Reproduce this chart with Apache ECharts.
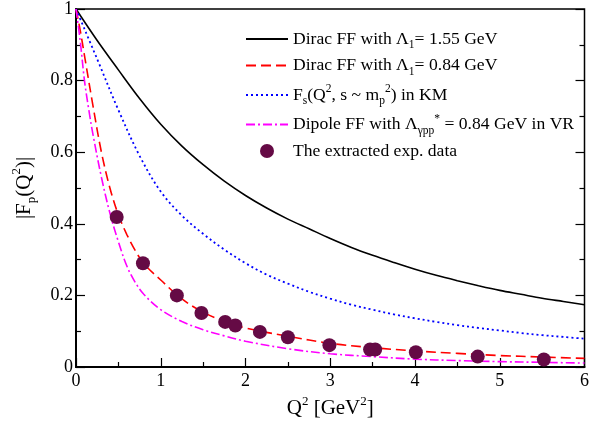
<!DOCTYPE html>
<html>
<head>
<meta charset="utf-8">
<script src="https://cdn.jsdelivr.net/npm/echarts@6/dist/echarts.min.js"></script>
<style>
html,body{margin:0;padding:0;background:#fff;}
#chart{width:592px;height:426px;}
</style>
</head>
<body>
<div id="chart"></div>
<script>
// ---- data ----
const diracHighQ2 = [0, 0.25, 0.5, 0.75, 1, 1.25, 1.5, 1.75, 2, 2.25, 2.5, 2.75, 3, 3.25, 3.5, 3.75, 4, 4.25, 4.5, 4.75, 5, 5.25, 5.5, 5.75, 6];
const diracHighF  = [1, 0.912, 0.83, 0.75, 0.678, 0.617, 0.565, 0.519, 0.479, 0.444, 0.413, 0.386, 0.359, 0.334, 0.312, 0.292, 0.273, 0.256, 0.241, 0.227, 0.214, 0.203, 0.192, 0.183, 0.174];

const diracLowQ2 = [0, 0.05, 0.1, 0.2, 0.3, 0.4, 0.5, 0.6, 0.7, 0.8, 1, 1.25, 1.5, 1.75, 2, 2.5, 3, 3.5, 4, 4.5, 5, 5.5, 6];
const diracLowF  = [1, 0.94, 0.87, 0.73, 0.6, 0.5, 0.425, 0.37, 0.325, 0.289, 0.243, 0.19, 0.153, 0.128, 0.109, 0.086, 0.066, 0.054, 0.045, 0.038, 0.032, 0.028, 0.024];

const kmQ2 = [0, 0.25, 0.5, 0.75, 1, 1.25, 1.5, 1.75, 2, 2.25, 2.5, 2.75, 3, 3.25, 3.5, 3.75, 4, 4.25, 4.5, 4.75, 5, 5.25, 5.5, 5.75, 6];
const kmF  = [1, 0.86, 0.718, 0.59, 0.49, 0.423, 0.372, 0.328, 0.29, 0.258, 0.233, 0.21, 0.191, 0.174, 0.16, 0.147, 0.136, 0.126, 0.117, 0.109, 0.102, 0.095, 0.089, 0.084, 0.079];

const dipoleQ2 = [0, 0.05, 0.1, 0.15, 0.2, 0.3, 0.4, 0.5, 0.6, 0.7, 0.8, 1, 1.25, 1.5, 1.75, 2, 2.5, 3, 3.5, 4, 4.5, 5, 5.5, 6];
const dipoleF  = [1, 0.91, 0.8, 0.72, 0.65, 0.53, 0.43, 0.35, 0.282, 0.236, 0.203, 0.16, 0.127, 0.104, 0.087, 0.072, 0.051, 0.037, 0.029, 0.022, 0.018, 0.015, 0.013, 0.011];

const expQ2 = [0.48, 0.79, 1.19, 1.48, 1.76, 1.88, 2.17, 2.5, 2.99, 3.47, 3.53, 4.01, 4.74, 5.52];
const expF  = [0.419, 0.29, 0.2, 0.151, 0.126, 0.116, 0.098, 0.083, 0.061, 0.049, 0.049, 0.041, 0.029, 0.021];

const xTickLabels = ['0', '1', '2', '3', '4', '5', '6'];
const yTickLabels = ['0', '0.2', '0.4', '0.6', '0.8', '1'];

const seriesNames = [
  'Dirac FF with {n|Λ}{sub|1}{n|= 1.55 GeV}',
  'Dirac FF with {n|Λ}{sub|1}{n|= 0.84 GeV}',
  '{n|F}{sub|s}{n|(Q}{sup|2}{n|, s ~ m}{sub|p}{sup|2}{n|) in KM}',
  '{n|Dipole FF with Λ}{sub|γpp}{sup|*}{n| = 0.84 GeV in VR}',
  'The extracted exp. data'
];

// ---- build ----
const zip = (a, b) => a.map((v, i) => [v, b[i]]);
const serif = '"Liberation Serif", "DejaVu Serif", serif';

const chart = echarts.init(document.getElementById('chart'), null, {renderer: 'canvas'});

const richStyles = {
  n:   {fontFamily: serif, fontSize: 17.6, color: '#000', lineHeight: 24, verticalAlign: 'middle'},
  sub: {fontFamily: serif, fontSize: 11.5, color: '#000', lineHeight: 12, verticalAlign: 'bottom'},
  sup: {fontFamily: serif, fontSize: 11.5, color: '#000', lineHeight: 12, verticalAlign: 'top'}
};

function lineSeries(name, q, f, color, type, width) {
  return {
    name: name, type: 'line', data: zip(q, f),
    showSymbol: false, symbol: 'none', smooth: 0.35,
    lineStyle: {color: color, width: width, type: type},
    itemStyle: {color: color},
    z: 3, silent: true
  };
}

const option = {
  animation: false,
  backgroundColor: '#fff',
  grid: {left: 76, right: 3, top: 8, bottom: 59, show: true, borderColor: '#000', borderWidth: 1.5, backgroundColor: 'transparent'},
  legend: {
    orient: 'vertical', left: 240, top: 25, itemGap: 5.5,
    itemWidth: 42, itemHeight: 14,
    selectedMode: false,
    formatter: function (name) {
      if (name.indexOf('{') === 0) return name;
      return name.replace(/^([^{]+)/, '{n|$1}');
    },
    textStyle: {fontFamily: serif, fontSize: 17.6, color: '#000', rich: richStyles},
    data: [
      {name: seriesNames[0], itemStyle: {opacity: 0}},
      {name: seriesNames[1], itemStyle: {opacity: 0}},
      {name: seriesNames[2], itemStyle: {opacity: 0}},
      {name: seriesNames[3], itemStyle: {opacity: 0}},
      {name: seriesNames[4], icon: 'circle', itemStyle: {color: '#650a45'}}
    ]
  },
  xAxis: {
    type: 'value', min: 0, max: 6, interval: 1,
    name: '{t|Q}{s|2}{t| [GeV}{s|2}{t|]}', nameLocation: 'middle', nameGap: 22,
    nameTextStyle: {rich: {
      t: {fontFamily: serif, fontSize: 21, color: '#000', lineHeight: 28, verticalAlign: 'middle'},
      s: {fontFamily: serif, fontSize: 13, color: '#000', lineHeight: 14, verticalAlign: 'top'}
    }},
    axisLine: {show: true, lineStyle: {color: '#000', width: 2}},
    axisTick: {show: true, inside: true, length: 9, lineStyle: {color: '#000', width: 1.2}},
    minorTick: {show: true, splitNumber: 2, length: 5, lineStyle: {color: '#000', width: 1.2}},
    splitLine: {show: false},
    axisLabel: {fontFamily: serif, fontSize: 18, color: '#000', margin: 5,
      formatter: function (v) { return xTickLabels[Math.round(v)]; }}
  },
  yAxis: [{
    type: 'value', min: 0, max: 1, interval: 0.2,
    name: '{t||F}{s|p}{t|(Q}{u|2}{t|)|}', nameLocation: 'middle', nameGap: 38,
    nameTextStyle: {rich: {
      t: {fontFamily: serif, fontSize: 21, color: '#000', lineHeight: 28, verticalAlign: 'middle'},
      s: {fontFamily: serif, fontSize: 13, color: '#000', lineHeight: 14, verticalAlign: 'bottom'},
      u: {fontFamily: serif, fontSize: 13, color: '#000', lineHeight: 14, verticalAlign: 'top'}
    }},
    axisLine: {show: true, lineStyle: {color: '#000', width: 2}},
    axisTick: {show: true, inside: true, length: 9, lineStyle: {color: '#000', width: 1.2}},
    minorTick: {show: true, splitNumber: 2, length: 5, lineStyle: {color: '#000', width: 1.2}},
    splitLine: {show: false},
    axisLabel: {fontFamily: serif, fontSize: 18, color: '#000', margin: 3,
      formatter: function (v) { return yTickLabels[Math.round(v * 5)]; }}
  }, {
    type: 'value', min: 0, max: 1, interval: 0.2, position: 'right',
    axisLine: {show: false},
    axisTick: {show: true, inside: true, length: 9, lineStyle: {color: '#000', width: 1.2}},
    minorTick: {show: true, splitNumber: 2, length: 5, lineStyle: {color: '#000', width: 1.2}},
    splitLine: {show: false},
    axisLabel: {show: false}
  }],
  series: [
    lineSeries(seriesNames[0], diracHighQ2, diracHighF, '#000000', 'solid', 1.6),
    lineSeries(seriesNames[1], diracLowQ2, diracLowF, '#ff0000', [10, 5], 1.6),
    lineSeries(seriesNames[2], kmQ2, kmF, '#0000ff', [2, 3], 1.8),
    lineSeries(seriesNames[3], dipoleQ2, dipoleF, '#ff00ff', [9, 3, 2, 3], 1.6),
    {
      name: seriesNames[4], type: 'scatter', data: zip(expQ2, expF),
      symbol: 'circle', symbolSize: 14,
      itemStyle: {color: '#650a45', opacity: 1}, z: 5, silent: true
    }
  ]
};
chart.setOption(option);
</script>
</body>
</html>
